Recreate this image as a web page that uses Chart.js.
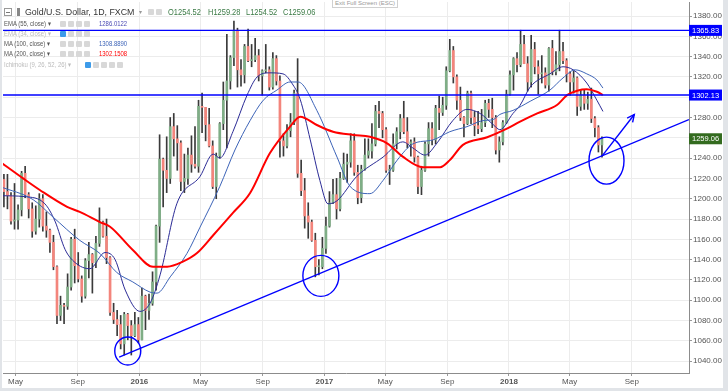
<!DOCTYPE html>
<html lang="en">
<head>
<meta charset="UTF-8" />
<title>Gold/U.S. Dollar, 1D, FXCM</title>
<script src="https://cdn.jsdelivr.net/npm/chart.js@4"></script>
<style>
  html, body { margin: 0; padding: 0; background: #fff; }
  #wrap { position: relative; width: 728px; height: 391px; overflow: hidden; font-family: 'Liberation Sans', Arial, sans-serif; }
  #chart { position: absolute; left: 0; top: 0; }
  .t { position: absolute; white-space: nowrap; transform-origin: left center; }
  .ind { font-size: 7px; line-height: 8px; color: #555; transform: scaleX(0.85); }
  .off { color: #bbb; }
  .ico { position: absolute; width: 6px; height: 6px; background: #d8d8d8; border-radius: 1px; }
  .ico.on { background: #3d9be9; }
  .ohlc { font-size: 8.5px; line-height: 10px; color: #3b7a45; transform: scaleX(0.88); }
  #esc { position: absolute; left: 332px; top: -3px; width: 64px; height: 9px; border: 1px solid #d0d0d0; background: #fff;
         font-size: 6px; line-height: 10px; color: #999; text-align: center; }
</style>
</head>
<body>
<div id="wrap">
  <canvas id="chart" width="728" height="391"></canvas>
  <div id="legend"></div>
</div>
<script>
// days counted from 1 Jan 2016; one candle per week, first week starts Mon 6 Apr 2015
const FIRST_WEEK = -270;

const open = [
  // 2015
  1219,1207,1203,1178,1179,1189,1225,1204,1190,1168,1180,1200,1173,1169,1157,1133,1085,1095,1094,1113,
  1160,1134,1121,1104,1139,1145,1137,1156,1177,1163,1142,1088,1081,1076,1057,1086,1075,1065,1076,
  // 2016
  1061,1104,1090,1097,1118,1173,1239,1228,1220,1271,1259,1255,1217,1220,1243,1234,1232,1291,1290,1273,
  1252,1212,1242,1274,1297,1316,1339,1366,1327,1322,1350,1336,1337,1341,1321,1326,1327,1310,1338,1316,
  1257,1252,1267,1275,1304,1225,1208,1183,1177,1159,1133,1133,
  // 2017
  1151,1173,1196,1204,1190,1220,1234,1236,1257,1226,1201,1229,1243,1247,1254,1286,1284,1268,1228,1228,
  1254,1266,1279,1266,1254,1256,1241,1212,1228,1254,1269,1258,1289,1285,1292,1326,1346,1320,1297,1280,
  1274,1304,1280,1272,1269,1275,1294,1288,1280,1248,1256,1275,
  // 2018
  1303,1322,1338,1332,1352,1333,1315,1347,1330,1323,1324,1312,1348,1325,1332,1345,1336,1323,1315,1319,
  1291,1302,1294,1298,1279,1270,1253
];
const high = [
  1224,1224,1206,1215,1194,1227,1232,1206,1196,1193,1205,1204,1187,1170,1164,1134,1104,1097,1126,1162,
  1170,1147,1124,1141,1157,1146,1163,1191,1178,1180,1143,1097,1090,1085,1088,1087,1080,1088,1083,
  1112,1105,1106,1128,1174,1263,1240,1261,1280,1284,1272,1257,1244,1250,1262,1271,1297,1304,1290,1289,
  1257,1245,1275,1315,1362,1341,1375,1368,1337,1352,1367,1352,1358,1347,1327,1352,1330,1344,1341,1321,
  1264,1273,1284,1307,1338,1238,1220,1196,1179,1166,1140,1162,
  1182,1207,1219,1220,1226,1245,1244,1264,1264,1233,1233,1259,1259,1274,1292,1296,1286,1270,1233,1264,
  1270,1283,1296,1280,1258,1260,1242,1232,1256,1275,1275,1292,1301,1300,1330,1357,1350,1322,1310,1281,
  1306,1306,1286,1286,1288,1297,1298,1299,1282,1261,1277,1307,
  1326,1339,1344,1366,1361,1340,1361,1354,1336,1341,1329,1349,1356,1345,1366,1354,1338,1325,1326,1320,
  1307,1307,1305,1309,1281,1272,1261
];
const low = [
  1192,1190,1175,1170,1170,1183,1201,1181,1162,1165,1172,1168,1162,1147,1130,1077,1080,1077,1091,1110,
  1117,1118,1098,1102,1122,1107,1132,1153,1162,1136,1085,1077,1065,1052,1046,1061,1046,1064,1058,
  1061,1071,1081,1095,1110,1157,1192,1206,1215,1242,1228,1208,1206,1214,1226,1230,1226,1265,1257,1251,
  1210,1200,1240,1268,1250,1308,1331,1310,1311,1314,1335,1330,1335,1316,1302,1324,1307,1308,1312,1241,
  1242,1250,1261,1273,1221,1203,1171,1161,1158,1123,1125,1131,
  1146,1172,1195,1180,1188,1219,1216,1231,1223,1195,1196,1228,1240,1240,1252,1270,1260,1226,1214,1227,
  1249,1259,1264,1250,1242,1236,1205,1204,1227,1242,1253,1254,1268,1282,1288,1325,1314,1288,1277,1261,
  1273,1274,1262,1264,1266,1271,1280,1270,1244,1236,1253,1274,
  1302,1307,1325,1330,1333,1306,1310,1323,1303,1314,1309,1306,1322,1322,1326,1333,1315,1302,1304,1282,
  1287,1288,1288,1275,1261,1246,1241
];
const close = [
  1207,1203,1178,1179,1189,1225,1204,1190,1168,1180,1200,1173,1169,1157,1133,1085,1095,1094,1113,1160,
  1134,1121,1104,1139,1145,1137,1156,1177,1163,1142,1088,1081,1076,1057,1086,1075,1065,1076,1061,
  1104,1090,1097,1118,1173,1239,1228,1220,1271,1259,1255,1217,1220,1243,1234,1232,1291,1290,1273,1252,
  1212,1242,1274,1297,1316,1339,1366,1327,1322,1350,1336,1337,1341,1321,1326,1327,1310,1338,1316,1257,
  1252,1267,1275,1304,1225,1208,1183,1177,1159,1133,1133,1151,
  1173,1196,1204,1190,1220,1234,1236,1257,1226,1201,1229,1243,1247,1254,1286,1284,1268,1228,1228,1254,
  1266,1279,1266,1254,1256,1241,1212,1228,1254,1269,1258,1289,1285,1292,1326,1346,1320,1297,1280,1274,
  1304,1280,1272,1269,1275,1294,1288,1280,1248,1256,1275,1303,
  1322,1338,1332,1352,1333,1315,1347,1330,1323,1324,1312,1348,1325,1332,1345,1336,1323,1315,1319,1291,
  1302,1294,1298,1279,1270,1253,1259.06
];

// moving averages (day, value)
const ema55Days = [-276,-226,-187,-167,-147,-127,-98,-68,-48,-28,1,21,41,74,120,146,159,185,213,233,258,284,304,318,338,357,373,391,430,482,521,541,565,589,620,648,674,700,713,739,753,773,812,838,858,885,905,917];
const ema55 =     [1203,1202,1195,1178,1150,1137,1131,1147,1140,1110,1089,1097,1125,1195,1222,1244,1240,1266,1302,1320,1324,1323,1312,1298,1258,1218,1195,1198,1222,1241,1256,1250,1243,1255,1277,1288,1284,1273,1268,1284,1292,1310,1323,1330,1327,1314,1297,1286];
const ma100Days = [-276,-210,-171,-118,-78,-44,-13,21,35,61,94,120,159,189,219,245,272,298,314,351,391,417,456,482,510,541,581,614,648,680,700,713,739,773,812,838,862,885,905,917];
const ma100 =     [1212,1199,1182,1159,1146,1127,1118,1108,1107,1123,1146,1172,1212,1248,1277,1297,1307,1315,1315,1287,1241,1212,1205,1218,1238,1254,1258,1266,1271,1277,1278,1283,1287,1296,1307,1319,1327,1323,1317,1309];
const ma200Days = [-276,-230,-197,-143,-118,-78,-58,-13,27,55,86,114,146,185,219,258,298,318,351,383,423,456,490,521,561,595,614,640,688,727,753,787,826,846,866,885,905,917];
const ma200 =     [1236.5,1220,1208.6,1192,1187,1177,1172.4,1149.5,1133,1133,1138,1146.5,1164,1186,1205.6,1244.7,1271,1280.8,1272.6,1266,1262.8,1261,1254.6,1241.4,1231,1231,1238,1253,1260.5,1269,1275.9,1284,1292.3,1302,1306.4,1307.8,1305.4,1302.2];

// drawn levels and trend line
const levels = [1365.83, 1302.13];
const trendDays = [-40, 1087];
const trendValues = [1044, 1278];

// axes
const priceTicks = [1040,1060,1080,1100,1120,1140,1160,1180,1200,1220,1240,1260,1280,1300,1320,1340,1360,1380];
const monthDays = [-245,-122,0,121,244,366,486,609,731,851,974];
const monthLabels = ['May','Sep','2016','May','Sep','2017','May','Sep','2018','May','Sep'];

// hand drawn marks (data coordinates, radii in px)
const circles = [
  { d: -23, v: 1050, rx: 13, ry: 14 },
  { d: 359, v: 1124, rx: 18, ry: 20.5 },
  { d: 924, v: 1237.5, rx: 17.5, ry: 23.5 }
];
const arrow = { d1: 915, v1: 1242, d2: 979, v2: 1283 };

const BLUE = '#0000ff';
const candleX = open.map((_, i) => FIRST_WEEK + 7 * i + 2);
const pts = (xs, ys) => xs.map((x, i) => ({ x, y: ys[i] }));

const drawings = {
  id: 'drawings',
  beforeDraw(chart) {
    const { ctx, width, height } = chart;
    ctx.save();
    ctx.fillStyle = '#e1e4e8';
    ctx.fillRect(0, 0, width, height);
    ctx.fillStyle = '#fff';
    ctx.fillRect(2, 0, 721, 388);
    ctx.restore();
  },
  afterDatasetsDraw(chart) {
    const { ctx, chartArea: a, scales: { x, y } } = chart;
    ctx.save();
    ctx.beginPath();
    ctx.rect(a.left, a.top, a.right - a.left, a.bottom - a.top);
    ctx.clip();
    ctx.strokeStyle = BLUE;
    ctx.lineWidth = 1.4;
    circles.forEach(c => {
      ctx.beginPath();
      ctx.ellipse(x.getPixelForValue(c.d), y.getPixelForValue(c.v), c.rx, c.ry, 0, 0, Math.PI * 2);
      ctx.stroke();
    });
    const x1 = x.getPixelForValue(arrow.d1), y1 = y.getPixelForValue(arrow.v1);
    const x2 = x.getPixelForValue(arrow.d2), y2 = y.getPixelForValue(arrow.v2);
    ctx.beginPath();
    ctx.moveTo(x1, y1);
    ctx.lineTo(x2, y2);
    ctx.stroke();
    const ang = Math.atan2(y2 - y1, x2 - x1);
    ctx.beginPath();
    ctx.moveTo(x2 - 8 * Math.cos(ang - 0.45), y2 - 8 * Math.sin(ang - 0.45));
    ctx.lineTo(x2, y2);
    ctx.lineTo(x2 - 8 * Math.cos(ang + 0.45), y2 - 8 * Math.sin(ang + 0.45));
    ctx.stroke();
    ctx.restore();
  },
  afterDraw(chart) {
    const { ctx, chartArea: a, scales: { y } } = chart;
    const tags = [
      { v: levels[0], bg: BLUE },
      { v: levels[1], bg: BLUE },
      { v: close[close.length - 1], bg: '#336b1f' }
    ];
    ctx.save();
    ctx.font = "7.5px 'Liberation Sans', Arial, sans-serif";
    ctx.textBaseline = 'middle';
    tags.forEach(t => {
      const py = y.getPixelForValue(t.v);
      ctx.fillStyle = t.bg;
      ctx.fillRect(a.right, py - 5.5, 33, 11);
      ctx.fillStyle = '#fff';
      ctx.fillText(t.v.toFixed(2), a.right + 3, py + 0.5);
    });
    ctx.restore();
  }
};

Chart.defaults.font.family = "'Liberation Sans', Arial, sans-serif";

new Chart(document.getElementById('chart'), {
  type: 'bar',
  data: {
    datasets: [
      { type: 'line', data: pts(trendDays, trendValues), borderColor: BLUE, borderWidth: 1.4, pointRadius: 0, order: 1 },
      ...levels.map(l => ({ type: 'line', data: pts([-280, 1100], [l, l]), borderColor: BLUE, borderWidth: 1.4, pointRadius: 0, order: 1 })),
      { type: 'line', data: pts(ma200Days, ma200), borderColor: '#ff0000', borderWidth: 2, pointRadius: 0, cubicInterpolationMode: 'monotone', order: 2 },
      { type: 'line', data: pts(ma100Days, ma100), borderColor: '#3d64b8', borderWidth: 1, pointRadius: 0, cubicInterpolationMode: 'monotone', order: 3 },
      { type: 'line', data: pts(ema55Days, ema55), borderColor: '#2b2b96', borderWidth: 1, pointRadius: 0, cubicInterpolationMode: 'monotone', order: 3 },
      { data: candleX.map((x, i) => ({ x, y: [open[i], close[i]] })), grouped: false, barThickness: 2, minBarLength: 1,
        backgroundColor: open.map((o, i) => close[i] >= o ? '#7fae86' : '#f3857c'), order: 9 },
      { data: candleX.map((x, i) => ({ x, y: [low[i], high[i]] })), grouped: false, barThickness: 1,
        backgroundColor: '#3a3a3a', order: 10 }
    ]
  },
  options: {
    responsive: false,
    animation: false,
    devicePixelRatio: 1,
    events: [],
    layout: { padding: { left: 3, top: 2, right: 0, bottom: 0 } },
    plugins: { legend: { display: false }, tooltip: { enabled: false } },
    scales: {
      x: {
        type: 'linear', min: -269.8, max: 1087.2, offset: false,
        afterBuildTicks: s => { s.ticks = monthDays.map(v => ({ value: v })); },
        afterFit: s => { s.height = 18; s.paddingLeft = 0; s.paddingRight = 0; },
        ticks: {
          autoSkip: false, maxRotation: 0, padding: 1, color: '#555',
          callback: (v, i) => monthLabels[i],
          font: c => ({ size: 8, weight: /^\d/.test(monthLabels[c.index] || '') ? 'bold' : 'normal' })
        },
        grid: { color: '#ececec', offset: false, tickLength: 3, tickColor: '#999' },
        border: { color: '#8c8c8c' }
      },
      y: {
        position: 'right', min: 1028.3, max: 1393.8,
        afterBuildTicks: s => { s.ticks = priceTicks.map(v => ({ value: v })); },
        afterFit: s => { s.width = 39; s.paddingTop = 0; s.paddingBottom = 0; },
        ticks: { color: '#555', padding: 1, font: { size: 8 }, callback: v => v.toFixed(2) },
        grid: { color: '#ececec', tickLength: 3, tickColor: '#999' },
        border: { color: '#8c8c8c' }
      }
    }
  },
  plugins: [drawings]
});

// legend overlay
const legendRows = [
  { y: 23.5, label: 'EMA (55, close)', value: '1286.0122', color: '#4a4ab4', iconX: 60, icons: 4 },
  { y: 33.7, label: 'EMA (34, close)', value: '', color: '', iconX: 60, icons: 4, off: true },
  { y: 44, label: 'MA (100, close)', value: '1308.8890', color: '#3d64b8', iconX: 60, icons: 4 },
  { y: 54.3, label: 'MA (200, close)', value: '1302.1508', color: '#ff0000', iconX: 60, icons: 4 },
  { y: 65.3, label: 'Ichimoku (9, 26, 52, 26)', value: '', color: '', iconX: 85, icons: 5, off: true }
];
const ohlc = [['O1254.52', 168], ['H1259.28', 208], ['L1254.52', 246], ['C1259.06', 283]];

let html = '<div id="esc">Exit Full Screen (ESC)</div>';
html += '<div style="position:absolute;left:4px;top:8px;width:6px;height:6px;border:1px solid #999;background:#fff"><div style="position:absolute;left:1px;top:3px;width:4px;height:1px;background:#777"></div></div>';
html += '<div style="position:absolute;left:17px;top:8px;width:3px;height:8px;background:#888"></div>';
html += '<div class="t" style="left:25px;top:6px;font-size:9.5px;line-height:12px;color:#333;transform:scaleX(0.93)">Gold/U.S. Dollar, 1D, FXCM</div>';
html += '<div class="t" style="left:139px;top:8px;font-size:6px;color:#999">&#9662;</div>';
html += '<div class="ico" style="left:148px;top:9px"></div><div class="ico" style="left:156px;top:9px"></div>';
ohlc.forEach(([txt, x]) => { html += `<div class="t ohlc" style="left:${x}px;top:7px">${txt}</div>`; });
legendRows.forEach(r => {
  html += `<div class="t ind${r.off ? ' off' : ''}" style="left:4px;top:${r.y - 4}px">${r.label} &#9662;</div>`;
  for (let k = 0; k < r.icons; k++) {
    html += `<div class="ico${r.off && k === 0 ? ' on' : ''}" style="left:${r.iconX + k * 8}px;top:${r.y - 3}px"></div>`;
  }
  if (r.value) html += `<div class="t ind" style="left:99px;top:${r.y - 4}px;color:${r.color}">${r.value}</div>`;
});
document.getElementById('legend').innerHTML = html;
</script>
</body>
</html>
